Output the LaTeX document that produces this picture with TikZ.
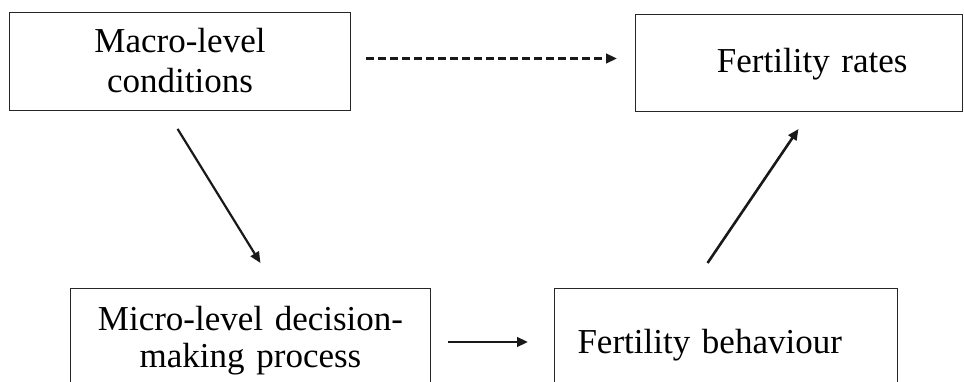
\documentclass[tikz,border=0pt]{standalone}
\usepackage{fontspec}
\setmainfont{Liberation Serif}
\usetikzlibrary{arrows.meta}

\begin{document}
\begin{tikzpicture}[x=1pt, y=1pt,
	box/.style={draw=black!85, line width=1pt, inner ysep=0pt, align=center, font=\fontsize{35}{40}\selectfont},
	link/.style={line width=2.6pt, black!90, -{Triangle[length=11pt, width=9.5pt]}}]
	\useasboundingbox (0,0) rectangle (964,382);
	\clip (0,0) rectangle (964,382);
	% boxes
	\node[box, anchor=north west, text width=320pt, minimum width=341pt, inner xsep=10pt, text height=40pt, text depth=58pt] (macro) at (9,370) {Macro-level\\conditions};
	\node[box, anchor=north west, align=right, text width=217pt, inner xsep=55pt, text height=58pt, text depth=39pt] (rates) at (635,368) {Fertility rates};
	\node[box, anchor=north west, font=\fontsize{35}{37}\selectfont, text width=340pt, minimum width=360pt, inner xsep=10pt, text height=42pt, text depth=65pt] (micro) at (70,94) {Micro-level decision-\\making process};
	\node[box, anchor=north west, align=left, text width=297pt, inner xsep=23pt, text height=65pt, text depth=42pt] (behav) at (554,94) {Fertility behaviour};
	% arrows
	\draw [link, dash pattern=on 8pt off 4pt, shorten <=15pt, shorten >=18pt] ([yshift=3pt]macro.east) -- ([yshift=3pt]macro.east -| rates.west);
	\draw [link, line width=2.2pt, shorten <=21.1pt, shorten >=29.4pt] ([xshift=-13.5pt]macro.south) -- ([xshift=25.4pt]micro.north);
	\draw [link, shorten <=17pt, shorten >=26pt] (micro.east) -- (behav.west);
	\draw [link, shorten <=30.2pt, shorten >=20.5pt] ([xshift=-35.4pt]behav.north) -- ([xshift=11pt]rates.south);
\end{tikzpicture}
\end{document}
